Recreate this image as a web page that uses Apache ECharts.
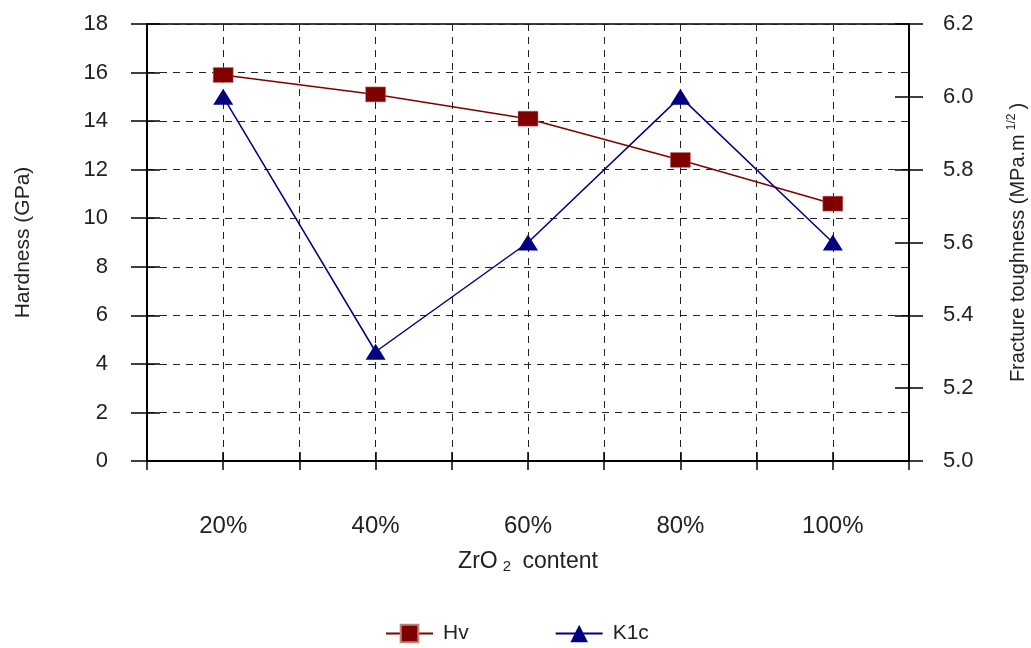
<!DOCTYPE html>
<html>
<head>
<meta charset="utf-8">
<script src="https://cdn.jsdelivr.net/npm/echarts@6/dist/echarts.min.js"></script>
<style>html,body{margin:0;padding:0;background:#fff;overflow:hidden}#c{width:1031px;height:648px}</style>
</head>
<body>
<div id="c"></div>
<script>
var categories = ['20%', '40%', '60%', '80%', '100%'];
var hvValues = [15.9, 15.1, 14.1, 12.4, 10.6];
var k1cValues = [6.0, 5.3, 5.6, 6.0, 5.6];
var seriesNames = ['Hv', 'K1c'];

var FONT = 'Liberation Sans';
function pairs(vals) { return vals.map(function (v, i) { return [2 * i + 1, v]; }); }
var dash = { color: '#222', width: 1, type: [7, 6] };

var chart = echarts.init(document.getElementById('c'));
chart.setOption({
  animation: false,
  backgroundColor: '#fff',
  textStyle: { fontFamily: FONT, color: '#222' },
  grid: { left: 147, right: 122, top: 24, bottom: 187, containLabel: false, outerBoundsMode: 'none', show: true, borderColor: '#000', borderWidth: 1.5, backgroundColor: 'transparent' },
  legend: {
    left: 385, top: 623, padding: 0, itemWidth: 47, itemHeight: 22, itemGap: 86,
    textStyle: { fontFamily: FONT, fontSize: 21, color: '#222', padding: [0, 0, 0, 5] },
    data: seriesNames
  },
  xAxis: [{
    type: 'value', min: 0, max: 10, interval: 1, position: 'bottom',
    axisLine: { show: true, onZero: false, lineStyle: { color: '#000', width: 2 } },
    axisTick: { show: true, length: 9, lineStyle: { color: '#000', width: 1.5 } },
    splitLine: { show: true, lineStyle: dash },
    axisLabel: {
      margin: 53, fontSize: 24, fontFamily: FONT, color: '#222', showMinLabel: true, showMaxLabel: true,
      formatter: function (v) { return (v % 2 === 1) ? categories[(v - 1) / 2] : ''; }
    },
    name: '{n|ZrO}{s|2}{n| content}', nameLocation: 'middle', nameGap: 88,
    nameTextStyle: { rich: { n: { fontSize: 23, fontFamily: FONT, color: '#222' }, s: { fontSize: 15, fontFamily: FONT, color: '#222', verticalAlign: 'bottom', padding: [10, 5, 0, 5] } } }
  }, {
    type: 'value', min: 0, max: 10, interval: 1, position: 'bottom',
    axisLine: { show: false, onZero: false },
    axisTick: { show: true, inside: true, length: 9, lineStyle: { color: '#000', width: 1.5 } },
    splitLine: { show: false }, axisLabel: { show: false }
  }],
  yAxis: [{
    type: 'value', min: 0, max: 18, interval: 2, position: 'left',
    axisLine: { show: true, onZero: false, lineStyle: { color: '#000', width: 2 } },
    axisTick: { show: true, length: 16, lineStyle: { color: '#000', width: 1.5 } },
    splitLine: { show: true, lineStyle: dash },
    axisLabel: { margin: 39, fontSize: 22, fontFamily: FONT, color: '#222' },
    name: 'Hardness (GPa)', nameLocation: 'middle', nameGap: 113, nameRotate: 90,
    nameTextStyle: { fontSize: 21, fontFamily: FONT, color: '#222' }
  }, {
    type: 'value', min: 5.0, max: 6.2, interval: 0.2, position: 'right',
    axisLine: { show: true, onZero: false, lineStyle: { color: '#000', width: 2 } },
    axisTick: { show: true, length: 14, lineStyle: { color: '#000', width: 1.5 } },
    splitLine: { show: false },
    axisLabel: { margin: 34, fontSize: 22, fontFamily: FONT, color: '#222', formatter: function (v) { return v.toFixed(1); } },
    name: '{n|Fracture toughness (MPa.m}{s|1/2}{n|)}', nameLocation: 'middle', nameGap: 97, nameRotate: 90,
    nameTextStyle: { rich: { n: { fontSize: 20, fontFamily: FONT, color: '#222' }, s: { fontSize: 12, fontFamily: FONT, color: '#222', verticalAlign: 'top', padding: [0, 4, 12, 4] } } }
  }, {
    type: 'value', min: 0, max: 18, interval: 2, position: 'left',
    axisLine: { show: false, onZero: false },
    axisTick: { show: true, inside: true, length: 13, lineStyle: { color: '#000', width: 1.5 } },
    splitLine: { show: false }, axisLabel: { show: false }
  }, {
    type: 'value', min: 5.0, max: 6.2, interval: 0.2, position: 'right',
    axisLine: { show: false, onZero: false },
    axisTick: { show: true, inside: true, length: 14, lineStyle: { color: '#000', width: 1.5 } },
    splitLine: { show: false }, axisLabel: { show: false }
  }],
  series: [{
    name: seriesNames[0], type: 'line', xAxisIndex: 0, yAxisIndex: 0,
    data: pairs(hvValues),
    symbol: 'rect', symbolSize: [20, 15],
    itemStyle: { color: '#800000', borderColor: '#c08080', borderWidth: 0.5 },
    lineStyle: { color: '#800000', width: 1.5 }
  }, {
    name: seriesNames[1], type: 'line', xAxisIndex: 0, yAxisIndex: 1,
    data: pairs(k1cValues),
    symbol: 'triangle', symbolSize: [20, 16],
    itemStyle: { color: '#000080' },
    lineStyle: { color: '#000080', width: 1.5 }
  }]
});
</script>
</body>
</html>
